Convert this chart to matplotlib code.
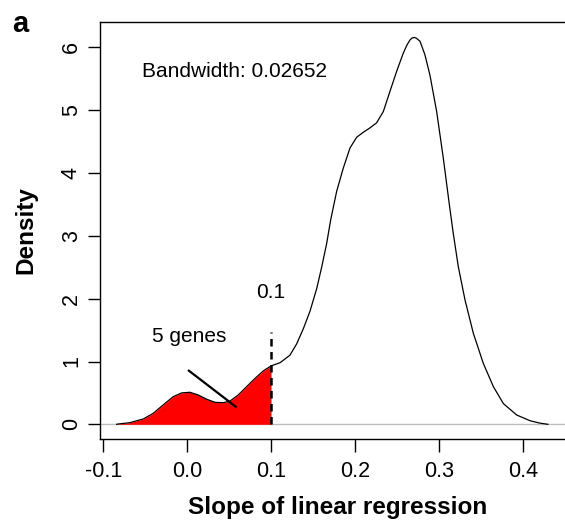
import numpy as np
import matplotlib
matplotlib.use('Agg')
import matplotlib.pyplot as plt

# density curve (slope, density)
slope = [-0.084, -0.0821, -0.0682, -0.0523, -0.0404, -0.0285, -0.0166,
         -0.0066, 0.0033, 0.0132, 0.0232, 0.0331, 0.043, 0.051, 0.0609,
         0.0709, 0.0808, 0.0907, 0.100, 0.1106, 0.1225, 0.1305, 0.1384,
         0.1464, 0.1544, 0.1603, 0.1663, 0.1710, 0.1782, 0.1861, 0.1941,
         0.2020, 0.2099, 0.2179, 0.2258, 0.2338, 0.2417, 0.2497, 0.2576,
         0.262, 0.2656, 0.268, 0.2705, 0.273, 0.2775, 0.280, 0.2835, 0.2894,
         0.2974, 0.3053, 0.3125, 0.3172, 0.3232, 0.3312, 0.3411, 0.353,
         0.365, 0.3769, 0.3928, 0.4087, 0.420, 0.430]
density = [0.0, 0.005, 0.026, 0.085, 0.175, 0.31, 0.44,
           0.50, 0.51, 0.467, 0.40, 0.35, 0.344, 0.37, 0.467,
           0.60, 0.73, 0.85, 0.93, 0.98, 1.10, 1.28, 1.52,
           1.80, 2.16, 2.50, 2.88, 3.25, 3.71, 4.08, 4.40,
           4.57, 4.65, 4.72, 4.80, 4.98, 5.30, 5.62, 5.91,
           6.04, 6.12, 6.15, 6.16, 6.15, 6.10, 6.01, 5.88, 5.56,
           4.98, 4.24, 3.50, 3.04, 2.51, 1.98, 1.45, 0.97,
           0.60, 0.33, 0.148, 0.057, 0.02, 0.0]

cutoff = 0.1
cutoff_height = 1.47
xticks = [-0.1, 0.0, 0.1, 0.2, 0.3, 0.4]
xtick_labels = ['-0.1', '0.0', '0.1', '0.2', '0.3', '0.4']
yticks = [0, 1, 2, 3, 4, 5, 6]
bandwidth = 0.02652
n_genes = 5

plt.rcParams['font.family'] = ['Liberation Sans', 'DejaVu Sans']

W, H = 565, 522
fig = plt.figure(figsize=(W / 100, H / 100), dpi=100)
ax = fig.add_axes([100 / W, 83 / H, 475 / W, 417 / H])

x = np.array(slope)
y = np.array(density)

ax.axhline(0, color='#bebebe', lw=1, zorder=1)
mask = x <= cutoff
ax.fill_between(x[mask], 0, y[mask], color='red', lw=0, zorder=2)
ax.plot(x, y, color='black', lw=0.9, zorder=3, solid_joinstyle='round')
ax.plot([cutoff, cutoff], [0, cutoff_height], color='black', lw=1.8,
        ls=(0, (3, 2.2)), zorder=4)

ax.text(cutoff, 2.1, '0.1', ha='center', va='center', fontsize=15)
ax.text(0.003, 1.40, '%d genes' % n_genes, ha='center', va='center', fontsize=15)
ax.plot([0.002, 0.058], [0.854, 0.28], color='black', lw=1.6, zorder=5)
ax.text(-0.054, 5.61, 'Bandwidth: %.5f' % bandwidth, ha='left', va='center',
        fontsize=15)

ax.set_xlim(-0.1039, 0.4623)
ax.set_ylim(-0.234, 6.406)
ax.set_xticks(xticks)
ax.set_xticklabels(xtick_labels)
ax.set_yticks(yticks)
ax.tick_params(labelsize=15.5, length=9, width=1, pad=7)
ax.tick_params(axis='y', labelrotation=90, pad=4)
for lab in ax.get_yticklabels():
    lab.set_va('center')

for s in ax.spines.values():
    s.set_linewidth(1)

ax.set_xlabel('Slope of linear regression', fontsize=17.5, fontweight='bold',
              labelpad=10)
ax.set_ylabel('Density', fontsize=17.5, fontweight='bold', labelpad=17)

fig.text(12 / W, 1 - 32 / H, 'a', fontsize=21, fontweight='bold',
         va='baseline', ha='left')

fig.savefig('out.png', dpi=100)
